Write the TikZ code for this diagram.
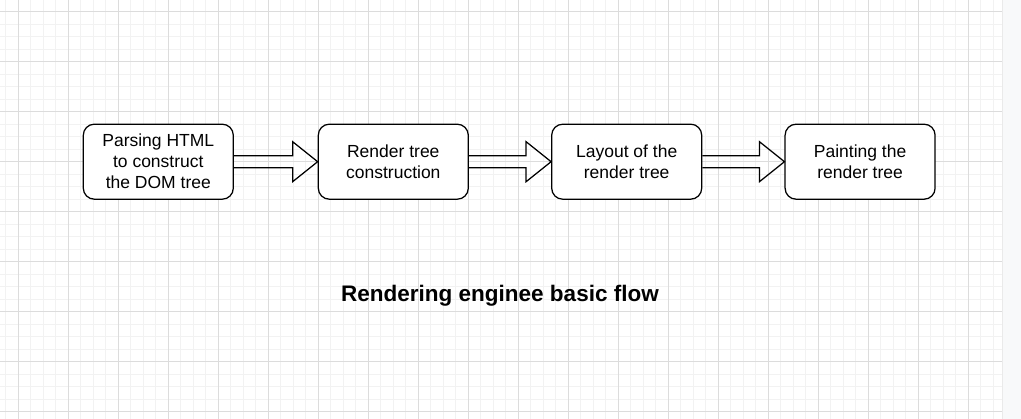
\documentclass[tikz,border=0pt]{standalone}
\usepackage{fontspec}
\setmainfont{Liberation Sans}
\usepackage{xcolor}
\usepackage{tikz}
\usetikzlibrary{positioning,calc}

\definecolor{gridminor}{HTML}{F2F2F2}
\definecolor{gridmajor}{HTML}{DCDCDC}
\definecolor{sidepanel}{HTML}{F8F9FA}

\tikzset{
  stage/.style={draw, line width=1.25pt, rounded corners=11pt, fill=white,
    minimum width=150pt, minimum height=75pt, inner sep=0pt, align=center,
    font=\fontsize{17.5}{21}\selectfont},
  flow/.style={draw, line width=1.25pt, line join=miter},
}

\begin{document}
\begin{tikzpicture}[x=1pt, y=-1pt]
                    \useasboundingbox (0,0) rectangle (1021,419);
                    % Background grid
                    \foreach \k in {0,...,79} \draw[gridminor, line width=1pt] ({5.8+12.5*\k},0) -- ++(0,419);
                    \foreach \k in {0,...,32} \draw[gridminor, line width=1pt] (0,{11.7+12.5*\k}) -- ++(1002,0);
                    \foreach \k in {0,...,19} \draw[gridmajor, line width=1pt] ({18.3+50*\k},0) -- ++(0,419);
                    \foreach \k in {0,...,8} \draw[gridmajor, line width=1pt] (0,{11.7+50*\k}) -- ++(1002,0);
                    \fill[sidepanel] (1002.5,0) rectangle (1021,419);
                    \draw[gridmajor!60, line width=1pt] (1002.5,0) -- (1002.5,419);

                    % Stages
                    \node[stage] (parse) at (158.3,161.7) {Parsing HTML\\to construct\\the DOM tree};
                    \node[stage, right=83.75pt of parse] (rtree) {Render tree\\construction};
                    \node[stage, right=82.15pt of rtree] (layout) {Layout of the\\render tree};
                    \node[stage, right=82.15pt of layout] (paint) {Painting the\\render tree};

                    % Flow arrows
                    \foreach \a/\b in {parse/rtree, rtree/layout, layout/paint}
                      \draw[flow] ($(\a.east)+(0,-6)$) -- ($(\b.west)+(-25,-6)$) -- ($(\b.west)+(-25,-20)$)
                        -- (\b.west) -- ($(\b.west)+(-25,20)$) -- ($(\b.west)+(-25,6)$) -- ($(\a.east)+(0,6)$);

                    % Caption
                    \node[anchor=base, font=\bfseries\fontsize{22.5}{27}\selectfont] (title) at (500,301.7) {Rendering enginee basic flow};
                \end{tikzpicture}
\end{document}
